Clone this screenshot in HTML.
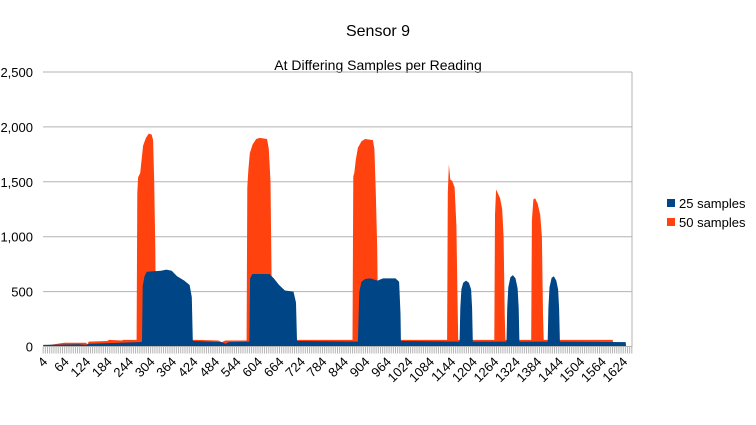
<!DOCTYPE html>
<html><head><meta charset="utf-8"><style>
body{margin:0;background:#fff}
svg{display:block;font-family:"Liberation Sans",sans-serif}
</style></head><body>
<svg id="chart" width="756" height="425">
<rect width="756" height="425" fill="#fff"/>
<text x="378" y="36" font-size="16" text-anchor="middle">Sensor 9</text>
<text x="378" y="70" font-size="14" text-anchor="middle">At Differing Samples per Reading</text>
<g id="grid"></g><g id="series"></g><g id="axes"></g>
<g>
<rect x="667" y="199" width="8" height="8" fill="#004586"/>
<text x="679" y="208" font-size="13">25 samples</text>
<rect x="667" y="218" width="8" height="8" fill="#ff420e"/>
<text x="679" y="227" font-size="13">50 samples</text>
</g>
</svg>
<script>
const yTicks=[0,500,1000,1500,2000,2500];
const yTickLabels=["0","500","1,000","1,500","2,000","2,500"];
const xTickLabels=[4,64,124,184,244,304,364,424,484,544,604,664,724,784,844,904,964,1024,1084,1144,1204,1264,1324,1384,1444,1504,1564,1624];
const nPoints=1645;
// breakpoints: [sample index, value]
const samples50=[[1,10],[20,15],[60,35],[120,35],[125,20],[128,45],[180,50],[185,60],[220,55],[225,60],[262,60],[264,1400],[266,1540],[272,1580],[276,1700],[280,1830],[288,1900],[296,1940],[304,1930],[308,1880],[311,1500],[314,900],[316,60],[430,60],[490,55],[500,40],[510,55],[569,55],[571,1450],[574,1600],[578,1760],[586,1840],[596,1890],[606,1900],[626,1890],[631,1800],[636,1500],[641,60],[865,60],[867,1550],[870,1580],[874,1700],[880,1810],[890,1870],[900,1890],[922,1880],[926,1800],[930,1400],[934,900],[937,60],[1129,60],[1131,1400],[1134,1660],[1138,1520],[1143,1510],[1150,1450],[1155,1100],[1158,500],[1160,60],[1261,60],[1263,1200],[1266,1430],[1270,1400],[1277,1350],[1283,1250],[1287,1000],[1290,300],[1292,60],[1364,60],[1366,1150],[1370,1340],[1375,1350],[1382,1300],[1389,1200],[1394,1000],[1397,300],[1399,60],[1592,60],[1593,0]];
const samples25=[[1,15],[100,20],[120,15],[130,25],[270,40],[277,45],[279,550],[284,640],[290,680],[330,690],[345,700],[360,690],[375,640],[395,600],[410,560],[416,450],[419,50],[500,40],[510,25],[520,40],[577,45],[579,620],[585,660],[600,660],[633,660],[645,620],[660,560],[676,510],[700,500],[707,400],[710,50],[880,45],[884,500],[890,590],[900,615],[915,620],[935,600],[950,620],[985,620],[995,590],[999,300],[1000,50],[1164,45],[1166,350],[1169,520],[1174,580],[1182,600],[1190,580],[1196,520],[1199,350],[1201,45],[1295,45],[1297,350],[1300,540],[1306,630],[1313,650],[1320,620],[1326,530],[1329,350],[1331,45],[1410,45],[1412,350],[1415,540],[1421,625],[1427,640],[1434,600],[1439,520],[1442,350],[1444,45],[1628,40],[1629,0]];
const X0=43,X1=632,Y0=346.5,Y1=72;
function xs(i){return X0+(i-0.5)*(X1-X0)/nPoints;}
function ys(v){return Y0-(v/2500)*(Y0-Y1);}
const NS="http://www.w3.org/2000/svg";
function mk(t,a,p){const e=document.createElementNS(NS,t);for(const k in a)e.setAttribute(k,a[k]);p.appendChild(e);return e;}
const grid=document.getElementById('grid'),axes=document.getElementById('axes'),ser=document.getElementById('series');
yTicks.forEach((v,k)=>{
 const l=mk('line',{x1:X0,x2:X1,y1:ys(v),y2:ys(v),stroke:'#b3b3b3','stroke-width':1},grid);
 
 
 const t=mk('text',{x:33,y:ys(v)+5,'font-size':13,'text-anchor':'end'},axes);
 t.textContent=yTickLabels[k];
 
 
});
const vl=mk('line',{x1:X1,x2:X1,y1:Y1,y2:Y0,stroke:'#b3b3b3'},grid);


function area(data,color,name){
 let d='M'+xs(data[0][0])+','+ys(0);
 data.forEach(p=>{d+='L'+xs(p[0]).toFixed(1)+','+ys(p[1]).toFixed(1);});
 d+='L'+xs(data[data.length-1][0])+','+ys(0)+'Z';
 const e=mk('path',{d:d,fill:color},ser);
 
 
}
area(samples50,'#ff420e','series-50-samples');
area(samples25,'#004586','series-25-samples');
const tk=mk('g',{},axes);


for(let i=1;i<=nPoints;i+=6){mk('line',{x1:xs(i),x2:xs(i),y1:Y0,y2:Y0+7,stroke:'#b3b3b3','stroke-width':1},tk);}
const ax=mk('line',{x1:X0,x2:X1,y1:Y0,y2:Y0,stroke:'#b3b3b3'},axes);


xTickLabels.forEach(v=>{
 const x=xs(v),y=Y0+16;
 const t=mk('text',{x:x+4,y:y,'font-size':13,'text-anchor':'end',transform:'rotate(-45 '+(x+4)+' '+y+')'},axes);
 t.textContent=v;
 
 
});
</script>
</body></html>
